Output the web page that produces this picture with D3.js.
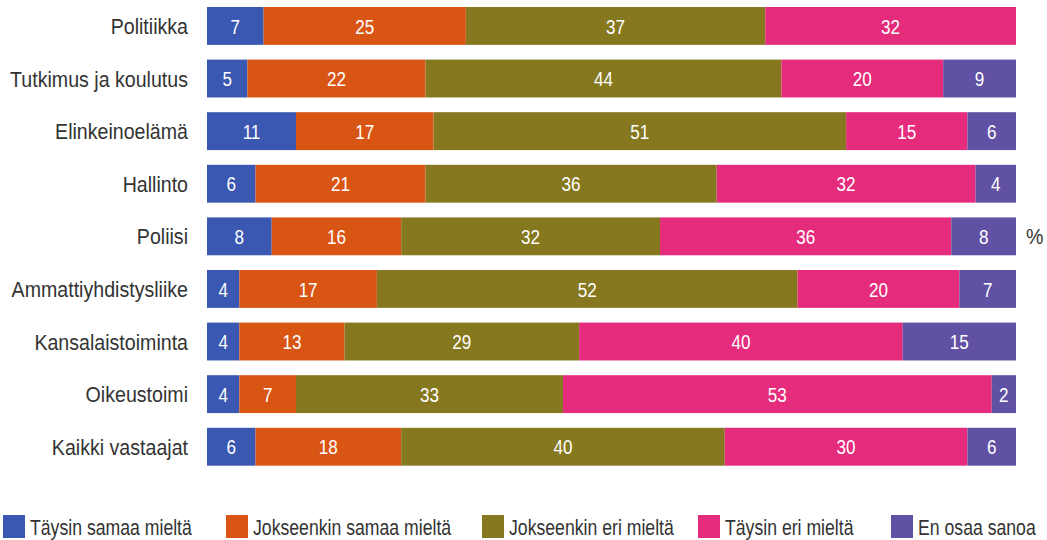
<!DOCTYPE html>
<html>
<head>
<meta charset="utf-8">
<script src="https://cdn.jsdelivr.net/npm/d3@7"></script>
<style>
  body { margin: 0; background: #fff; }
  svg text { font-family: "Liberation Sans", Arial, sans-serif; }
</style>
</head>
<body>
<svg id="chart" width="1047" height="540"></svg>
<script>
const categories = ["Politiikka", "Tutkimus ja koulutus", "Elinkeinoelämä", "Hallinto", "Poliisi",
  "Ammattiyhdistysliike", "Kansalaistoiminta", "Oikeustoimi", "Kaikki vastaajat"];
const seriesNames = ["Täysin samaa mieltä", "Jokseenkin samaa mieltä", "Jokseenkin eri mieltä", "Täysin eri mieltä", "En osaa sanoa"];
const taysinSamaa = [7, 5, 11, 6, 8, 4, 4, 4, 6];
const jokseenkinSamaa = [25, 22, 17, 21, 16, 17, 13, 7, 18];
const jokseenkinEri = [37, 44, 51, 36, 32, 52, 29, 33, 40];
const taysinEri = [32, 20, 15, 32, 36, 20, 40, 53, 30];
const enOsaa = [0, 9, 6, 4, 8, 7, 15, 2, 6];
const colors = ["#3a57b1", "#d95514", "#86781e", "#e52b7b", "#6151a4"];

const svg = d3.select("#chart");
const margin = { left: 207, right: 31, top: 7 };
const width = 1047 - margin.left - margin.right;
const textColor = "#333";

// measure a string to get a horizontal squeeze that mimics a narrow font
function squeeze(str, size, target) {
  const t = svg.append("text").style("font-size", size + "px").text(str);
  const w = t.node().getComputedTextLength();
  t.remove();
  return target / w;
}
const catSize = 22.5, valSize = 21, legSize = 21.5;
const catScale = squeeze("Tutkimus ja koulutus", catSize, 178);
const valScale = squeeze("32", valSize, 19);
const legScale = squeeze("Täysin samaa mieltä", legSize, 162);

const rows = categories.map((c, i) => {
  const vals = [taysinSamaa[i], jokseenkinSamaa[i], jokseenkinEri[i], taysinEri[i], enOsaa[i]];
  const r = { cat: c };
  seriesNames.forEach((s, j) => r[s] = vals[j]);
  return r;
});

const layers = d3.stack().keys(seriesNames)(rows);
// rounded shares don't always add to 100: the last segment of each row fills to 100
rows.forEach((r, i) => {
  let last = null;
  layers.forEach(l => {
    l[i][0] = Math.min(l[i][0], 100);
    l[i][1] = Math.min(l[i][1], 100);
    if (r[l.key] > 0) last = l;
  });
  last[i][1] = 100;
});

const step = 52.6;
const x = d3.scaleLinear().domain([0, 100]).range([margin.left, margin.left + width]);
const y = d3.scaleBand().domain(categories)
  .range([margin.top, margin.top + step * (categories.length - 0.28)])
  .paddingInner(0.28).paddingOuter(0);

// category labels
svg.append("g").selectAll("text")
  .data(categories).enter().append("text")
  .attr("transform", d => "translate(188," + (y(d) + y.bandwidth() / 2) + ") scale(" + catScale + ",1)")
  .attr("dy", "0.36em")
  .attr("text-anchor", "end")
  .style("font-size", catSize + "px")
  .style("fill", textColor)
  .text(d => d);

const groups = svg.append("g").selectAll("g")
  .data(layers).enter().append("g")
  .style("fill", (d, i) => colors[i]);

const segs = d => d.filter(p => p.data[d.key] > 0).map(p => ({ p: p, key: d.key }));

groups.selectAll("rect")
  .data(segs)
  .enter().append("rect")
  .attr("x", d => x(d.p[0]))
  .attr("y", d => y(d.p.data.cat))
  .attr("width", d => x(d.p[1]) - x(d.p[0]))
  .attr("height", y.bandwidth());

groups.selectAll("text")
  .data(segs)
  .enter().append("text")
  .attr("transform", d => "translate(" + (x(d.p[0]) + x(d.p[1])) / 2 + "," + (y(d.p.data.cat) + y.bandwidth() / 2) + ") scale(" + valScale + ",1)")
  .attr("dy", "0.36em")
  .attr("text-anchor", "middle")
  .style("font-size", valSize + "px")
  .style("fill", "#fff")
  .text(d => d.p.data[d.key]);

// percent sign
svg.append("text")
  .attr("transform", "translate(1026," + (y("Poliisi") + y.bandwidth() / 2) + ") scale(" + catScale + ",1)")
  .attr("dy", "0.36em")
  .style("font-size", catSize + "px")
  .style("fill", textColor)
  .text("%");

// legend
const legendX = [3, 226, 482, 698, 891];
const legend = svg.append("g").selectAll("g")
  .data(seriesNames).enter().append("g")
  .attr("transform", (d, i) => "translate(" + legendX[i] + ",515)");
legend.append("rect")
  .attr("width", 22).attr("height", 23)
  .style("fill", (d, i) => colors[i]);
legend.append("text")
  .attr("transform", "translate(27,12) scale(" + legScale + ",1)")
  .attr("dy", "0.36em")
  .style("font-size", legSize + "px")
  .style("fill", textColor)
  .text(d => d);
</script>
</body>
</html>
